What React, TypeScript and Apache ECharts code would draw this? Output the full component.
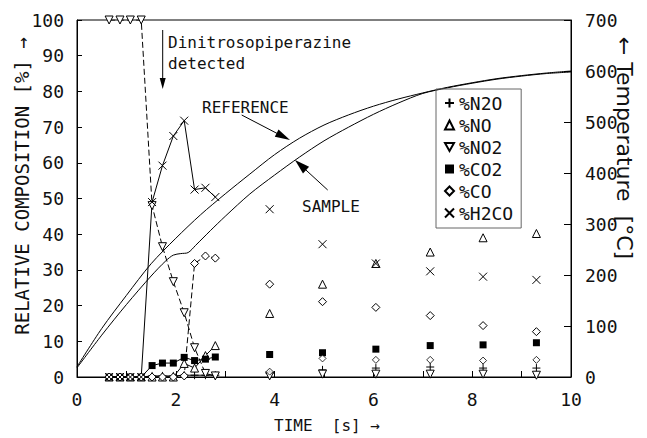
import React, { useEffect, useRef } from 'react';
import * as echarts from 'echarts';

// Sampling times [s]
const earlyTime = [0.65, 0.87, 1.08, 1.3, 1.52, 1.73, 1.95, 2.17, 2.38, 2.6, 2.8];
const lateTime = [3.9, 4.97, 6.05, 7.15, 8.22, 9.3];

// Relative composition [%]
const n2oEarly = [0, 0, 0, 0, 0.3, 0.3, 0.3, 0.5, 0.5, 0.5, 0.5];
const n2oLate = [1.0, 2.0, 2.5, 2.8, 2.5, 2.5];
const noEarly = [0, 0, 0, 0, 0, 0, 0, 3.8, 2.5, 6.0, 8.8];
const noLate = [17.8, 26, 31.8, 35, 39, 40.2];
const no2Early = [100, 100, 100, 100, 48, 36.5, 26.7, 18, 8.2, 1, 0.3];
const no2Late = [0.3, 0.8, 0.8, 0.8, 0.8, 0.5];
const co2Early = [0, 0, 0, 0, 3.2, 3.9, 3.9, 5.5, 4.6, 5.0, 5.6];
const co2Late = [6.3, 6.8, 7.8, 8.8, 9.0, 9.6];
const coEarly = [0, 0, 0, 0, 0, 0, 0, 0.3, 31.8, 33.9, 33.3];
const coLate = [26, 21.1, 19.5, 17.2, 14.4, 12.7];
const h2coEarly = [0, 0, 0, 0, 49, 59.2, 67.5, 71.8, 52.5, 53, 50.4];
const h2coLate = [47, 37.2, 31.8, 29.6, 28.1, 27.2];
const smallDiamondLate = [1.5, 5.2, 4.8, 4.8, 4.6, 4.8];

// Temperature [°C]
const refTime = [0, 0.5, 1.0, 1.5, 2.0, 2.5, 3.0, 3.5, 4.0, 4.5, 5.0, 5.5, 6.0, 6.5, 7.0, 7.5, 8.0, 8.5, 9.0, 9.5, 10];
const refTemp = [20, 95, 160, 222, 272, 318, 359, 398, 436, 468, 494, 514, 531, 545, 557, 568, 577, 585, 591, 596, 600];
const sampleTime = [0, 0.5, 1.0, 1.5, 1.8, 1.95, 2.1, 2.25, 2.4, 2.7, 3.0, 3.5, 4.0, 4.5, 5.0, 5.5, 6.0, 6.5, 7.0, 7.5, 8.0, 8.5, 9.0, 9.5, 10];
const sampleTemp = [18, 82, 142, 198, 228, 239, 242, 244, 258, 287, 315, 359, 396, 431, 463, 490, 515, 537, 556, 567, 576, 584, 590, 595, 598];

const seriesNames = ['%N2O', '%NO', '%NO2', '%CO2', '%CO', '%H2CO'];

const MONO = '"DejaVu Sans Mono", monospace';
const SANS = '"DejaVu Sans", sans-serif';

const SYM_PLUS = 'path://M5,0L5,10M0,5L10,5';
const SYM_CROSS = 'path://M0,0L10,10M10,0L0,10';
const SYM_DOWN = 'path://M0,0L10,0L5,9Z';

function combine(early: number[], late: number[]) {
  const out: any[] = earlyTime.map((t, i) => [t, early[i]]);
  lateTime.forEach((t, i) => {
    out.push([t - 0.05, '-']);
    out.push([t, late[i]]);
  });
  return out;
}

function arrowHead(tipX: number, tipY: number, fromX: number, fromY: number, len: number, half: number) {
  const dx = tipX - fromX;
  const dy = tipY - fromY;
  const d = Math.sqrt(dx * dx + dy * dy);
  const ux = dx / d;
  const uy = dy / d;
  const bx = tipX - ux * len;
  const by = tipY - uy * len;
  return [
    [tipX, tipY],
    [bx - uy * half, by + ux * half],
    [bx + uy * half, by - ux * half],
  ];
}

export default function App() {
  const ref = useRef<HTMLDivElement>(null);
  useEffect(() => {
    if (!ref.current) return;
    const chart = echarts.init(ref.current, undefined, { renderer: 'svg' });

    const hollow = { color: '#fff', borderColor: '#000', borderWidth: 1 };
    const mk = (name: string, early: number[], late: number[], symbol: string, size: number, itemStyle: any, dashed: boolean) => ({
      name,
      type: 'line',
      data: combine(early, late),
      symbol,
      symbolSize: size,
      showSymbol: true,
      connectNulls: false,
      itemStyle,
      lineStyle: { color: '#000', width: 1, type: dashed ? [6, 3] : 'solid' },
      emphasis: { disabled: true },
      z: 3,
    });

    const option: any = {
      animation: false,
      backgroundColor: '#fff',
      grid: { left: 77, right: 76, top: 20, bottom: 61, show: true, borderColor: '#000', borderWidth: 1, backgroundColor: 'transparent' },
      xAxis: {
        type: 'value',
        min: 0,
        max: 10,
        interval: 2,
        axisLine: { lineStyle: { color: '#000', width: 1 } },
        axisTick: { inside: true, length: 6, lineStyle: { color: '#000' } },
        minorTick: { show: true, splitNumber: 2, length: 6, lineStyle: { color: '#000' } },
        splitLine: { show: false },
        axisLabel: { color: '#111', fontFamily: MONO, fontSize: 18, margin: 13 },
      },
      yAxis: [
        {
          type: 'value',
          min: 0,
          max: 100,
          interval: 10,
          axisLine: { show: true, lineStyle: { color: '#000', width: 1 } },
          axisTick: { show: true, inside: true, length: 5, lineStyle: { color: '#000' } },
          splitLine: { show: false },
          axisLabel: { color: '#111', fontFamily: MONO, fontSize: 18, margin: 13 },
        },
        {
          type: 'value',
          min: 0,
          max: 700,
          interval: 100,
          position: 'right',
          axisLine: { show: true, lineStyle: { color: '#000', width: 1 } },
          axisTick: { show: true, inside: true, length: 7, lineStyle: { color: '#000' } },
          splitLine: { show: false },
          axisLabel: { color: '#111', fontFamily: MONO, fontSize: 18, margin: 14 },
        },
      ],
      legend: {
        orient: 'vertical',
        left: 436,
        top: 89,
        padding: [5, 8, 6, 8],
        itemWidth: 9,
        itemHeight: 9,
        itemGap: 4,
        itemTextGap: 12,
        borderColor: '#666',
        borderWidth: 1,
        selectedMode: false,
        textStyle: { color: '#111', fontFamily: MONO, fontSize: 18 },
        data: [
          { name: '%N2O', icon: SYM_PLUS },
          { name: '%NO', icon: 'triangle' },
          { name: '%NO2', icon: SYM_DOWN },
          { name: '%CO2', icon: 'rect' },
          { name: '%CO', icon: 'diamond' },
          { name: '%H2CO', icon: SYM_CROSS },
        ],
      },
      series: [
        mk(seriesNames[0], n2oEarly, n2oLate, SYM_PLUS, 8, hollow, false),
        mk(seriesNames[1], noEarly, noLate, 'triangle', 8, hollow, false),
        mk(seriesNames[2], no2Early, no2Late, SYM_DOWN, 8, hollow, true),
        mk(seriesNames[3], co2Early, co2Late, 'rect', 7, { color: '#000', borderColor: '#000', borderWidth: 0 }, false),
        mk(seriesNames[4], coEarly, coLate, 'diamond', 8, hollow, true),
        mk(seriesNames[5], h2coEarly, h2coLate, SYM_CROSS, 8, hollow, false),
        {
          name: 'small diamond',
          type: 'scatter',
          data: lateTime.map((t, i) => [t, smallDiamondLate[i]]),
          symbol: 'diamond',
          symbolSize: 7,
          itemStyle: hollow,
          emphasis: { disabled: true },
          z: 3,
        },
        {
          name: 'REFERENCE',
          type: 'line',
          yAxisIndex: 1,
          data: refTime.map((t, i) => [t, refTemp[i]]),
          symbol: 'none',
          smooth: 0.3,
          lineStyle: { color: '#000', width: 1 },
          emphasis: { disabled: true },
          z: 2,
        },
        {
          name: 'SAMPLE',
          type: 'line',
          yAxisIndex: 1,
          data: sampleTime.map((t, i) => [t, sampleTemp[i]]),
          symbol: 'none',
          smooth: 0.3,
          lineStyle: { color: '#000', width: 1 },
          emphasis: { disabled: true },
          z: 2,
        },
      ],
      graphic: [
        { type: 'line', shape: { x1: 162.7, y1: 30, x2: 162.7, y2: 80 }, style: { stroke: '#000', lineWidth: 1 } },
        { type: 'polygon', shape: { points: [[159.7, 78], [165.7, 78], [162.7, 89]] }, style: { fill: '#000' } },
        { type: 'text', x: 168, y: 42, style: { text: 'Dinitrosopiperazine', fontFamily: MONO, fontSize: 16, fill: '#111', textAlign: 'left', textVerticalAlign: 'middle' } },
        { type: 'text', x: 168, y: 63, style: { text: 'detected', fontFamily: MONO, fontSize: 16, fill: '#111', textAlign: 'left', textVerticalAlign: 'middle' } },
        { type: 'text', x: 202, y: 107, style: { text: 'REFERENCE', fontFamily: MONO, fontSize: 16, fill: '#111', textAlign: 'left', textVerticalAlign: 'middle' } },
        { type: 'line', shape: { x1: 241.7, y1: 115, x2: 282, y2: 136 }, style: { stroke: '#000', lineWidth: 1 } },
        { type: 'polygon', shape: { points: arrowHead(290, 140, 241.7, 115, 15, 4) }, style: { fill: '#000' } },
        { type: 'text', x: 302, y: 206, style: { text: 'SAMPLE', fontFamily: MONO, fontSize: 16, fill: '#111', textAlign: 'left', textVerticalAlign: 'middle' } },
        { type: 'line', shape: { x1: 327.7, y1: 190, x2: 301, y2: 165.5 }, style: { stroke: '#000', lineWidth: 1 } },
        { type: 'polygon', shape: { points: arrowHead(295, 160, 327.7, 190, 15, 4.5) }, style: { fill: '#000' } },
        { type: 'text', x: 22, y: 186, rotation: Math.PI / 2, style: { text: 'RELATIVE COMPOSITION [%] \u2192', fontFamily: MONO, fontSize: 19, fill: '#111', textAlign: 'center', textVerticalAlign: 'middle' } },
        { type: 'text', x: 624, y: 148, rotation: -Math.PI / 2, style: { text: '\u2190 Temperature  [\u00B0C]', fontFamily: SANS, fontSize: 22, fill: '#111', textAlign: 'center', textVerticalAlign: 'middle' } },
        { type: 'text', x: 327, y: 425, style: { text: 'TIME  [s] \u2192', fontFamily: MONO, fontSize: 16, fill: '#111', textAlign: 'center', textVerticalAlign: 'middle' } },
      ],
    };

    chart.setOption(option);
    return () => chart.dispose();
  }, []);

  return <div ref={ref} style={{ width: 647, height: 438, position: 'absolute', left: 0, top: 0 }} />;
}
